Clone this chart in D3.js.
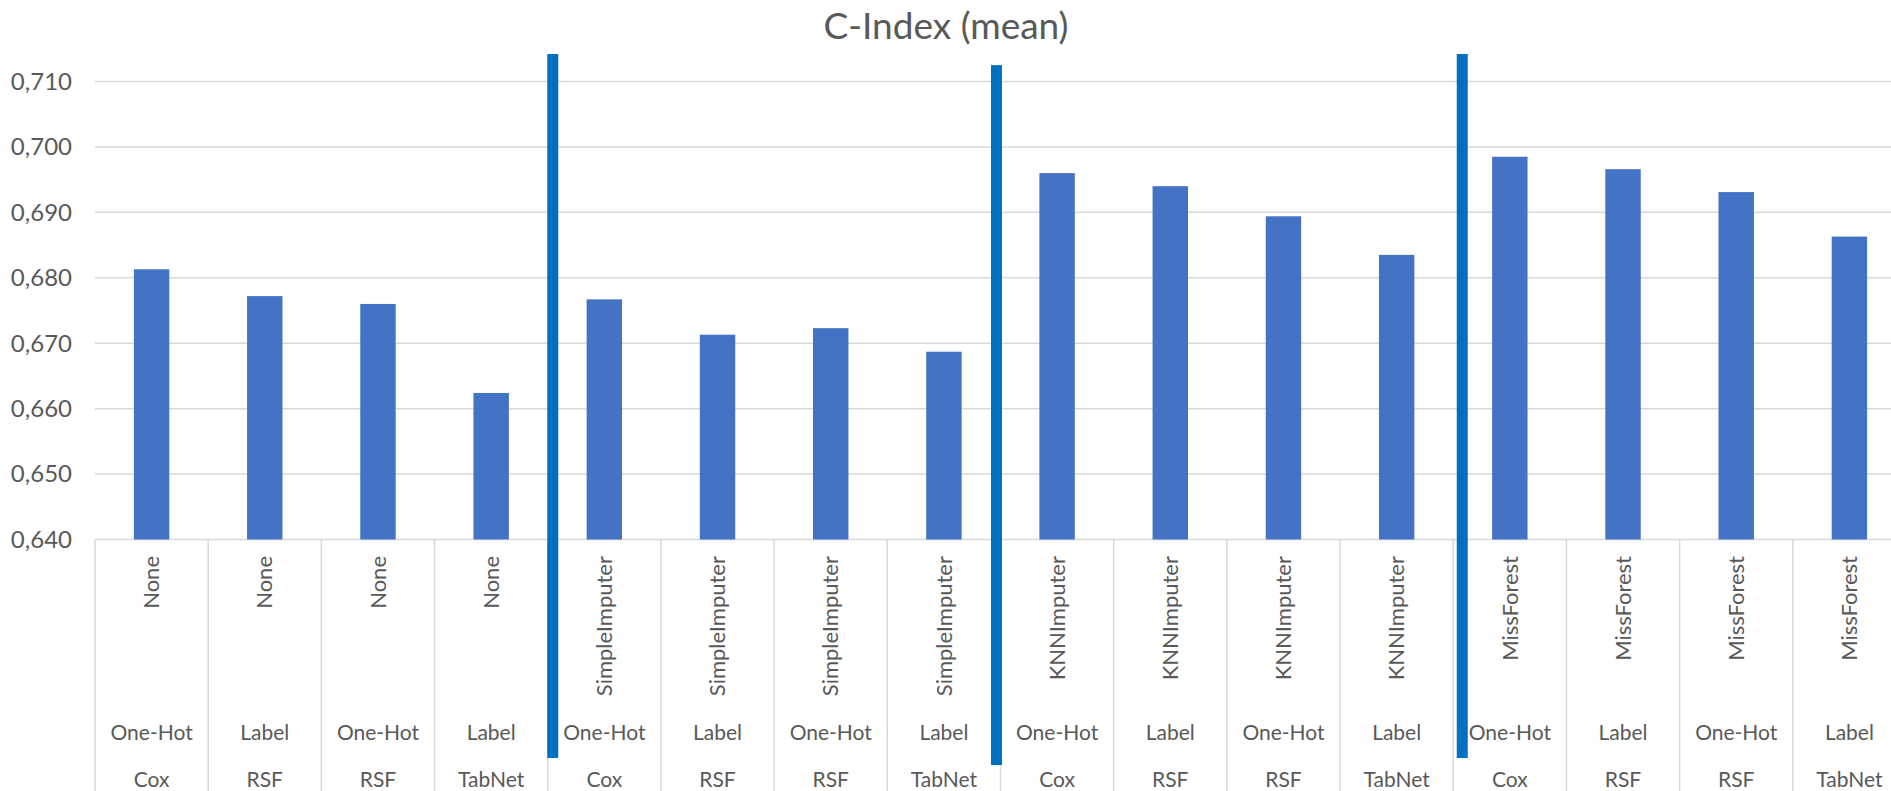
<!DOCTYPE html>
<html>
<head>
<meta charset="utf-8">
<script src="https://cdn.jsdelivr.net/npm/d3@7"></script>
<style>
  html, body { margin: 0; padding: 0; background: #fff; }
  svg { display: block; font-family: Lato, "Open Sans", sans-serif; }
</style>
</head>
<body>
<svg></svg>
<script>
let imputers = ['None', 'None', 'None', 'None',
  'SimpleImputer', 'SimpleImputer', 'SimpleImputer', 'SimpleImputer',
  'KNNImputer', 'KNNImputer', 'KNNImputer', 'KNNImputer',
  'MissForest', 'MissForest', 'MissForest', 'MissForest']
let encodings = ['One-Hot', 'Label', 'One-Hot', 'Label',
  'One-Hot', 'Label', 'One-Hot', 'Label',
  'One-Hot', 'Label', 'One-Hot', 'Label',
  'One-Hot', 'Label', 'One-Hot', 'Label']
let models = ['Cox', 'RSF', 'RSF', 'TabNet',
  'Cox', 'RSF', 'RSF', 'TabNet',
  'Cox', 'RSF', 'RSF', 'TabNet',
  'Cox', 'RSF', 'RSF', 'TabNet']
let cIndex = [0.6813, 0.6772, 0.6760, 0.6624,
  0.6767, 0.6713, 0.6723, 0.6687,
  0.6960, 0.6940, 0.6894, 0.6835,
  0.6985, 0.6966, 0.6931, 0.6863]
let yTicks = [0.640, 0.650, 0.660, 0.670, 0.680, 0.690, 0.700, 0.710]
// group separators drawn over the chart: after which category, top value
let groupBreaks = [3, 7, 11]
let breakTops = [0.7142, 0.7125, 0.7142]

let width = 1891
let height = 791
let left = 95
let right = 1906
let gridColor = '#d9d9d9'
let textColor = '#595959'

let svg = d3.select('svg')
    .attr('width', width)
    .attr('height', height)

let x = d3.scaleBand()
          .domain(d3.range(cIndex.length))
          .range([left, right])
          .paddingInner(0.687)
          .paddingOuter(0.3435)

let y = d3.scaleLinear()
          .domain([0.64, 0.71])
          .range([539.5, 81.5])

let step = x.step()
let cellLeft = i => x(i) + x.bandwidth() / 2 - step / 2
let center = i => x(i) + x.bandwidth() / 2
let fmt = v => d3.format('.3f')(v).replace('.', ',')

svg.append('text')
    .attr('x', 946)
    .attr('y', 39)
    .attr('text-anchor', 'middle')
    .attr('fill', textColor)
    .style('font-size', '37px')
    .text('C-Index (mean)')

// gridlines
svg.append('g')
  .selectAll('line')
  .data(yTicks)
  .enter()
  .append('line')
    .attr('x1', left)
    .attr('x2', right)
    .attr('y1', d => y(d))
    .attr('y2', d => y(d))
    .attr('stroke', gridColor)
    .attr('stroke-width', 1.5)

svg.append('g')
  .selectAll('text')
  .data(yTicks)
  .enter()
  .append('text')
    .attr('x', 72)
    .attr('y', d => y(d))
    .attr('dy', '0.35em')
    .attr('text-anchor', 'end')
    .attr('fill', textColor)
    .style('font-size', '24px')
    .text(fmt)

// category cell dividers
svg.append('g')
  .selectAll('line')
  .data(d3.range(cIndex.length + 1))
  .enter()
  .append('line')
    .attr('x1', d => d < cIndex.length ? cellLeft(d) : cellLeft(d - 1) + step)
    .attr('x2', d => d < cIndex.length ? cellLeft(d) : cellLeft(d - 1) + step)
    .attr('y1', y(0.64))
    .attr('y2', height)
    .attr('stroke', gridColor)
    .attr('stroke-width', 1.5)

svg.append('g')
  .selectAll('rect')
  .data(cIndex)
  .enter()
  .append('rect')
    .attr('x', (d, i) => x(i))
    .attr('width', x.bandwidth())
    .attr('y', d => y(d))
    .attr('height', d => y(0.64) - y(d))
    .attr('fill', '#4472c4')

let labels = svg.append('g')
    .attr('fill', textColor)
    .style('font-size', '21px')

labels.selectAll('.imputer')
  .data(imputers)
  .enter()
  .append('text')
    .classed('imputer', true)
    .attr('text-anchor', 'end')
    .attr('dy', '0.35em')
    .style('font-size', '22px')
    .attr('transform', (d, i) => `translate(${center(i)}, 556) rotate(-90)`)
    .text(d => d)

labels.selectAll('.encoding')
  .data(encodings)
  .enter()
  .append('text')
    .classed('encoding', true)
    .attr('text-anchor', 'middle')
    .attr('x', (d, i) => center(i))
    .attr('y', 740)
    .text(d => d)

labels.selectAll('.model')
  .data(models)
  .enter()
  .append('text')
    .classed('model', true)
    .attr('text-anchor', 'middle')
    .attr('x', (d, i) => center(i))
    .attr('y', 787)
    .text(d => d)

// thick blue group separators
let breakShift = [5, -4, 9]
let breakBottom = [758, 765, 758]
svg.append('g')
  .selectAll('rect')
  .data(groupBreaks)
  .enter()
  .append('rect')
    .attr('x', (d, i) => cellLeft(d + 1) + breakShift[i] - 5.5)
    .attr('width', 11)
    .attr('y', (d, i) => y(breakTops[i]))
    .attr('height', (d, i) => breakBottom[i] - y(breakTops[i]))
    .attr('fill', '#0070c0')
</script>
</body>
</html>
